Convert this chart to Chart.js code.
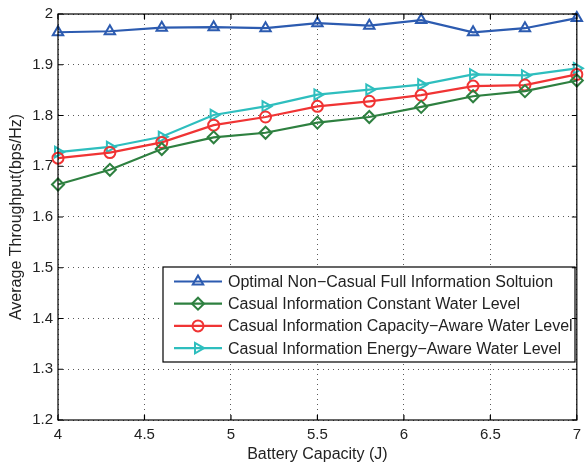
<!DOCTYPE html>
<html>
<head>
<meta charset="utf-8">
<script src="https://cdn.jsdelivr.net/npm/chart.js@4"></script>
<style>
  html, body { margin: 0; padding: 0; background: #fff; }
  #wrap { width: 587px; height: 468px; }
</style>
</head>
<body>
<div id="wrap"><canvas id="myChart"></canvas></div>
<script>
// battery capacity values (x)
const capacity = [4, 4.3, 4.6, 4.9, 5.2, 5.5, 5.8, 6.1, 6.4, 6.7, 7];

const optimalFull = [1.964, 1.966, 1.973, 1.974, 1.972, 1.982, 1.977, 1.988, 1.964, 1.972, 1.992];
const constantWater = [1.664, 1.693, 1.734, 1.757, 1.766, 1.786, 1.797, 1.817, 1.838, 1.848, 1.869];
const capacityAware = [1.716, 1.727, 1.747, 1.781, 1.797, 1.818, 1.828, 1.840, 1.858, 1.860, 1.881];
const energyAware = [1.728, 1.738, 1.758, 1.801, 1.818, 1.841, 1.851, 1.861, 1.881, 1.879, 1.893];

const seriesNames = [
  "Optimal Non\u2212Casual Full Information Soltuion",
  "Casual Information Constant Water Level",
  "Casual Information Capacity\u2212Aware Water Level",
  "Casual Information Energy\u2212Aware Water Level"
];

const xTicks = [4, 4.5, 5, 5.5, 6, 6.5, 7];
const yTicks = [1.2, 1.3, 1.4, 1.5, 1.6, 1.7, 1.8, 1.9, 2];

const fontFam = "'Liberation Sans', Arial, sans-serif";

function toPoints(vals) {
  return vals.map((v, i) => ({ x: capacity[i], y: v }));
}

function makeSet(label, vals, color, style, rot, r) {
  return {
    label: label,
    data: toPoints(vals),
    borderColor: color,
    backgroundColor: 'rgba(0,0,0,0)',
    borderWidth: 2.2,
    pointStyle: style,
    pointRotation: rot,
    pointRadius: r,
    pointBorderWidth: 2,
    pointBorderColor: color,
    pointBackgroundColor: 'rgba(0,0,0,0)',
    tension: 0,
    clip: false
  };
}

// box around plot + inward ticks like matlab
const boxPlugin = {
  id: 'box',
  afterDraw(chart) {
    const ctx = chart.ctx;
    const a = chart.chartArea;
    const xs = chart.scales.x, ys = chart.scales.y;
    ctx.save();
    ctx.strokeStyle = '#000';
    ctx.lineWidth = 1.2;
    ctx.beginPath();
    xTicks.forEach(t => {
      const px = xs.getPixelForValue(t);
      ctx.moveTo(px, a.bottom); ctx.lineTo(px, a.bottom - 5);
      ctx.moveTo(px, a.top); ctx.lineTo(px, a.top + 5);
    });
    yTicks.forEach(t => {
      const py = ys.getPixelForValue(t);
      ctx.moveTo(a.left, py); ctx.lineTo(a.left + 5, py);
      ctx.moveTo(a.right, py); ctx.lineTo(a.right - 5, py);
    });
    ctx.stroke();
    ctx.strokeRect(a.left, a.top, a.right - a.left, a.bottom - a.top);
    ctx.restore();
  }
};

// legend box inside the plot
const legendPlugin = {
  id: 'inLegend',
  afterDatasetsDraw(chart) {
    const ctx = chart.ctx;
    const bx = 163, by = 267, bw = 412, bh = 95;
    ctx.save();
    ctx.fillStyle = '#fff';
    ctx.fillRect(bx, by, bw, bh);
    ctx.strokeStyle = '#000';
    ctx.lineWidth = 1.2;
    ctx.strokeRect(bx, by, bw, bh);
    ctx.font = "16px " + fontFam;
    ctx.textBaseline = 'middle';
    chart.data.datasets.forEach((ds, i) => {
      const y = by + 14.5 + i * 22.2;
      ctx.strokeStyle = ds.borderColor;
      ctx.lineWidth = 2.2;
      ctx.beginPath();
      ctx.moveTo(174, y); ctx.lineTo(222, y);
      ctx.stroke();
      ctx.lineWidth = 2;
      ctx.fillStyle = 'rgba(0,0,0,0)';
      Chart.helpers.drawPoint(ctx, {
        pointStyle: ds.pointStyle,
        rotation: ds.pointRotation,
        radius: ds.pointRadius,
        borderWidth: 2
      }, 198, y);
      ctx.fillStyle = '#222';
      ctx.fillText(ds.label, 228, y + 1);
    });
    ctx.restore();
  }
};

const ctx = document.getElementById('myChart');
new Chart(ctx, {
  type: 'line',
  data: {
    datasets: [
      makeSet(seriesNames[0], optimalFull, '#2c5bb0', 'triangle', 0, 6),
      makeSet(seriesNames[1], constantWater, '#2e8040', 'rectRot', 0, 6),
      makeSet(seriesNames[2], capacityAware, '#f03434', 'circle', 0, 5.5),
      makeSet(seriesNames[3], energyAware, '#2ebebe', 'triangle', 90, 6)
    ]
  },
  options: {
    responsive: true,
    maintainAspectRatio: false,
    animation: false,
    layout: { padding: { left: 0, top: 9, right: 7, bottom: 0 } },
    plugins: {
      legend: { display: false },
      tooltip: { enabled: false }
    },
    scales: {
      x: {
        type: 'linear',
        min: 4,
        max: 7,
        afterBuildTicks: (s) => { s.ticks = xTicks.map(v => ({ value: v })); },
        afterFit: (s) => { s.height = 48; },
        ticks: {
          color: '#222',
          font: { family: fontFam, size: 15 },
          padding: 6,
          maxRotation: 0,
          callback: (v) => String(v)
        },
        grid: {
          color: 'rgba(0,0,0,0.65)',
          lineWidth: 1,
          tickLength: 0,
          drawTicks: false
        },
        border: { display: false, dash: [1, 4] },
        title: {
          display: true,
          text: 'Battery Capacity (J)',
          color: '#222',
          font: { family: fontFam, size: 16 },
          padding: { top: 0, bottom: 4 }
        }
      },
      y: {
        min: 1.2,
        max: 2,
        afterBuildTicks: (s) => { s.ticks = yTicks.map(v => ({ value: v })); },
        afterFit: (s) => { s.width = 58; },
        ticks: {
          color: '#222',
          font: { family: fontFam, size: 15 },
          padding: 5,
          callback: (v) => String(Number(v.toFixed(1)))
        },
        grid: {
          color: 'rgba(0,0,0,0.65)',
          lineWidth: 1,
          tickLength: 0,
          drawTicks: false
        },
        border: { display: false, dash: [1, 4] },
        title: {
          display: true,
          text: 'Average Throughput(bps/Hz)',
          color: '#222',
          font: { family: fontFam, size: 16 },
          padding: { top: 7, bottom: 0 }
        }
      }
    }
  },
  plugins: [boxPlugin, legendPlugin]
});
</script>
</body>
</html>
